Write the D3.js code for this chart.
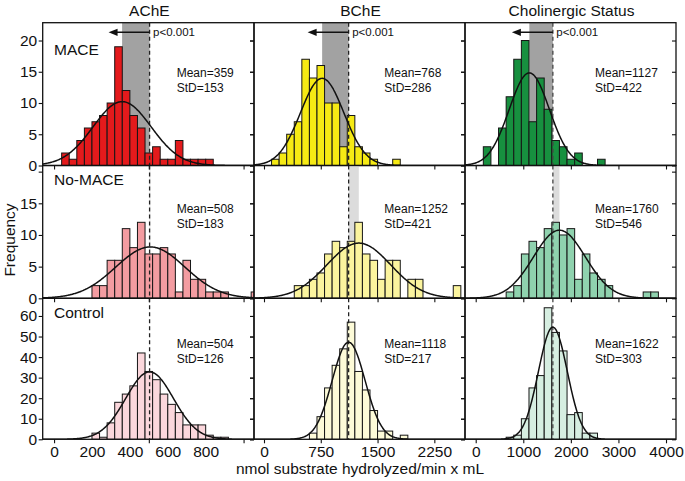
<!DOCTYPE html>
<html><head><meta charset="utf-8">
<script src="https://cdn.jsdelivr.net/npm/d3@7"></script>
<style>body{margin:0;background:#fff} text{font-family:"Liberation Sans",Arial,sans-serif;fill:#111}</style>
</head><body><svg id="c" width="685" height="481"></svg>
<script>
// ---------- data ----------
const columns = ["AChE", "BChE", "Cholinergic Status"];
const groups = ["MACE", "No-MACE", "Control"];

const achMean = [359, 508, 504], achSD = [153, 183, 126];
const bchMean = [768, 1252, 1118], bchSD = [286, 421, 217];
const cholMean = [1127, 1760, 1622], cholSD = [422, 546, 303];

const binWidths = [40, 100, 160];

const achStarts = [40, 200, 200];
const achMACE = [2, 1, 4, 6, 7, 8, 10, 19, 12, 8, 6, 2, 3, 1, 1, 4, 1, 1, 1, 1];
const achNoMACE = [2, 2, 6, 6, 11, 8, 12, 7, 7, 8, 7, 1, 6, 3, 3, 1, 1, 1, 0, 0, 0, 1];
const achControl = [3, 1, 8, 18, 22, 26, 42, 33, 29, 22, 17, 13, 7, 7, 7, 2, 1, 1];

const bchStarts = [100, 400, 600];
const bchMACE = [1, 2, 5, 7, 17, 14, 16, 10, 10, 3, 8, 3, 2, 1, 0, 0, 1];
const bchNoMACE = [2, 2, 3, 4, 7, 9, 8, 9, 12, 7, 6, 3, 6, 6, 0, 3, 3, 0, 0, 0, 0, 2];
const bchControl = [3, 11, 25, 36, 44, 57, 33, 24, 14, 4, 4, 0, 2];

const cholStarts = [160, 640, 640];
const cholMACE = [3, 0, 6, 11, 17, 20, 7, 14, 9, 4, 3, 1, 2, 0, 0, 1];
const cholNoMACE = [1, 2, 7, 9, 8, 11, 12, 10, 11, 3, 7, 4, 3, 2, 0, 0, 0, 0, 1, 1];
const cholControl = [1, 2, 10, 25, 31, 64, 52, 43, 12, 13, 3, 3];

const xTicks = [[0, 500, 1000], [0, 750, 1500, 2250], [0, 1000, 2000, 3000, 4000]];
const xTickLabels = [[0, 200, 400, 600, 800], [0, 750, 1500, 2250], [0, 1000, 2000, 3000, 4000]];
const yTicks = [[0, 5, 10, 15, 20], [0, 5, 10, 15, 20], [0, 10, 20, 30, 40, 50, 60]];
const yTickLabels = [[0, 5, 10, 15, 20], [0, 5, 10, 15], [0, 10, 20, 30, 40, 50, 60]];
const xDomains = [[-60, 1055], [-132, 2655], [-225, 4210]];
const yDomains = [[0, 22.85], [0, 20.97], [0, 68.6]];
const pText = "p<0.001";
const xTitle = "nmol substrate hydrolyzed/min x mL";
const yTitle = "Frequency";

// ---------- styles / layout ----------
const colX = [[42.7, 254], [254, 465], [465, 676]];
const rowY = [[22.7, 165.5], [165.5, 298.3], [298.3, 439.3]];
const colors = [
  ["#e41a1c", "#f39ca1", "#fbd7dc"],
  ["#f6ea14", "#fbf49e", "#fdfbd8"],
  ["#17903f", "#8fd2ae", "#d6eee1"]
];
const statX = [176.7, 384.3, 595];
const statY = [[77.3, 92.3], [213.3, 228.3], [348.3, 362.7]];
const labelY = [55, 185, 318];

const counts = [
  [achMACE, achNoMACE, achControl],
  [bchMACE, bchNoMACE, bchControl],
  [cholMACE, cholNoMACE, cholControl]
];
const starts = [achStarts, bchStarts, cholStarts];
const means = [achMean, bchMean, cholMean];
const sds = [achSD, bchSD, cholSD];

const svg = d3.select("#c");
const defs = svg.append("defs");

function styleAxis(a) {
  a.select(".domain").remove();
  a.selectAll("line").attr("stroke", "#111").attr("stroke-width", 1.1);
  a.selectAll("text").style("font-size", "15.5px").attr("fill", "#111")
    .style("font-family", '"Liberation Sans", Arial, sans-serif');
}

for (let c = 0; c < 3; c++) {
  const x = d3.scaleLinear().domain(xDomains[c]).range(colX[c]);
  const xd = x(means[c][2]);
  for (let r = 0; r < 3; r++) {
    const y = d3.scaleLinear().domain(yDomains[r]).range([rowY[r][1], rowY[r][0]]);
    const id = `clip${c}${r}`;
    defs.append("clipPath").attr("id", id).append("rect")
      .attr("x", colX[c][0]).attr("y", rowY[r][0])
      .attr("width", colX[c][1] - colX[c][0]).attr("height", rowY[r][1] - rowY[r][0]);
    const g = svg.append("g").attr("clip-path", `url(#${id})`);
    // shading
    if (r < 2) {
      const a = x(means[c][r]), b = xd;
      g.append("rect").attr("x", Math.min(a, b)).attr("width", Math.abs(b - a))
        .attr("y", rowY[r][0]).attr("height", rowY[r][1] - rowY[r][0])
        .attr("fill", r === 0 ? "#a2a2a2" : "#dcdcdc");
    }
    // bars
    const w = binWidths[c], s0 = starts[c][r], cnt = counts[c][r];
    const bw = x(w) - x(0);
    g.selectAll("rect.bar").data(cnt.map((v, i) => ({ v, i })).filter(d => d.v > 0))
      .enter().append("rect").attr("class", "bar")
      .attr("x", d => x(s0 + d.i * w)).attr("width", bw)
      .attr("y", d => y(d.v)).attr("height", d => y(0) - y(d.v))
      .attr("fill", colors[c][r]).attr("stroke", "#161616").attr("stroke-width", 1);
    // dashed line
    g.append("line").attr("x1", xd).attr("x2", xd).attr("y1", rowY[r][0]).attr("y2", rowY[r][1])
      .attr("stroke", c === 2 ? "#444" : "#222").attr("stroke-width", 1.3).attr("stroke-dasharray", "4,3");
    // fitted normal
    const n = d3.sum(cnt), m = means[c][r], sd = sds[c][r];
    const steps = d3.range(0, 301).map(k => xDomains[c][0] + (xDomains[c][1] - xDomains[c][0]) * k / 300);
    const line = d3.line().x(v => x(v)).y(v => y(n * w * Math.exp(-0.5 * ((v - m) / sd) ** 2) / (sd * Math.sqrt(2 * Math.PI)))).curve(d3.curveBasis);
    g.append("path").attr("d", line(steps)).attr("fill", "none").attr("stroke", "#111").attr("stroke-width", 1.5);

    // axes
    const left = d3.axisLeft(y).tickValues(yTicks[r]).tickSize(4).tickPadding(1.5)
      .tickFormat(v => (c === 0 && yTickLabels[r].includes(v)) ? String(v) : "");
    styleAxis(svg.append("g").attr("transform", `translate(${colX[c][0]},0)`).call(left));
    const right = d3.axisLeft(y).tickValues(yTicks[r]).tickSize(4).tickFormat("");
    styleAxis(svg.append("g").attr("transform", `translate(${colX[c][1]},0)`).call(right));
    const bottom = d3.axisBottom(x).tickValues(xTicks[c]).tickSize(4).tickFormat("");
    styleAxis(svg.append("g").attr("transform", `translate(0,${rowY[r][1]})`).call(bottom));
    if (r === 2) {
      const labs = d3.axisBottom(x).tickValues(xTickLabels[c]).tickSize(0).tickPadding(7)
        .tickFormat(v => String(v));
      styleAxis(svg.append("g").attr("transform", `translate(0,${rowY[r][1]})`).call(labs));
    }

    // frame
    svg.append("rect").attr("x", colX[c][0]).attr("y", rowY[r][0])
      .attr("width", colX[c][1] - colX[c][0]).attr("height", rowY[r][1] - rowY[r][0])
      .attr("fill", "none").attr("stroke", "#111").attr("stroke-width", 1.3);

    // stats text
    svg.append("text").attr("x", statX[c]).attr("y", statY[r][0]).style("font-size", "12px").text(`Mean=${m}`);
    svg.append("text").attr("x", statX[c]).attr("y", statY[r][1]).style("font-size", "12px").text(`StD=${sd}`);
  }
  // column title
  svg.append("text").attr("x", (colX[c][0] + colX[c][1]) / 2 + 1).attr("y", 15.5)
    .attr("text-anchor", "middle").style("font-size", "15.5px").text(columns[c]);
  // p-value arrow
  const ay = 32.3, tip = xd - 41;
  svg.append("line").attr("x1", xd).attr("x2", tip + 6).attr("y1", ay).attr("y2", ay)
    .attr("stroke", "#111").attr("stroke-width", 1.5);
  svg.append("path").attr("d", `M${tip},${ay}L${tip + 9},${ay - 3.6}L${tip + 9},${ay + 3.6}Z`).attr("fill", "#111");
  svg.append("text").attr("x", xd + 3.5).attr("y", 35.8).style("font-size", "11.5px").text(pText);
}
// group labels
groups.forEach((gname, r) => {
  svg.append("text").attr("x", 54).attr("y", labelY[r]).style("font-size", "15.5px").text(gname);
});
// axis titles
svg.append("text").attr("transform", "translate(15,240) rotate(-90)").attr("text-anchor", "middle")
  .style("font-size", "15.5px").text(yTitle);
svg.append("text").attr("x", 360).attr("y", 474).attr("text-anchor", "middle")
  .style("font-size", "15.5px").text(xTitle);
</script></body></html>
